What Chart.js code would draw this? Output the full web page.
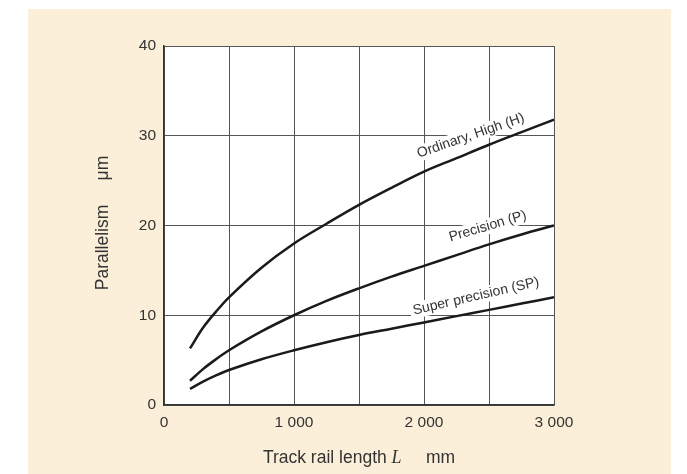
<!DOCTYPE html>
<html>
<head>
<meta charset="utf-8">
<script src="https://cdn.jsdelivr.net/npm/chart.js@4.4.0/dist/chart.umd.min.js"></script>
<style>
  html, body { margin: 0; padding: 0; background: #ffffff; }
  #wrap { width: 687px; height: 474px; }
</style>
</head>
<body>
<div id="wrap"><canvas id="c" width="687" height="474"></canvas></div>
<script>
// track rail length L (mm)
var lengths = [200, 300, 400, 500, 750, 1000, 1250, 1500, 1750, 2000, 2250, 2500, 2750, 3000];
// parallelism (um) per accuracy class
var ordinaryHigh = [6.3, 8.6, 10.4, 12.0, 15.3, 18.0, 20.2, 22.3, 24.2, 26.0, 27.5, 29.0, 30.4, 31.8];
var precision = [2.7, 4.0, 5.1, 6.1, 8.2, 10.0, 11.6, 13.0, 14.3, 15.5, 16.7, 17.9, 19.0, 20.0];
var superPrecision = [1.8, 2.6, 3.3, 3.9, 5.1, 6.1, 7.0, 7.8, 8.5, 9.2, 9.9, 10.6, 11.3, 12.0];

var curveLabels = ['Ordinary, High (H)', 'Precision (P)', 'Super precision (SP)'];
var labelX = [2360, 2490, 2400];
var labelY = [30.0, 19.9, 12.1];
var labelAngle = [-19, -16.5, -13];

function toPoints(ys) {
  return lengths.map(function (x, i) { return { x: x, y: ys[i] }; });
}

function series(ys) {
  return {
    data: toPoints(ys),
    borderColor: '#1a1a1a',
    borderWidth: 2.5,
    pointRadius: 0,
    tension: 0.35,
    showLine: true,
    fill: false
  };
}

var FONT = '"Liberation Sans", Arial, sans-serif';
var SERIF_IT = 'italic 18px "Liberation Serif", "Times New Roman", serif';

var decor = {
  id: 'decor',
  beforeDraw: function (chart) {
    var ctx = chart.ctx, a = chart.chartArea;
    ctx.save();
    ctx.fillStyle = '#fcefd9';
    ctx.fillRect(28, 9, 643, 465);
    ctx.fillStyle = '#ffffff';
    ctx.fillRect(a.left, a.top, a.right - a.left, a.bottom - a.top);
    ctx.restore();
  },
  afterDraw: function (chart) {
    var ctx = chart.ctx, a = chart.chartArea;
    var xs = chart.scales.x, ys = chart.scales.y;
    ctx.save();

    // curve labels with white knock-out
    ctx.font = '14px ' + FONT;
    ctx.textAlign = 'center';
    ctx.textBaseline = 'middle';
    for (var i = 0; i < curveLabels.length; i++) {
      var px = xs.getPixelForValue(labelX[i]);
      var py = ys.getPixelForValue(labelY[i]);
      var w = ctx.measureText(curveLabels[i]).width;
      ctx.save();
      ctx.translate(px, py);
      ctx.rotate(labelAngle[i] * Math.PI / 180);
      ctx.fillStyle = '#ffffff';
      ctx.fillRect(-w / 2 - 3, -8, w + 6, 16);
      ctx.fillStyle = '#333333';
      ctx.fillText(curveLabels[i], 0, 0);
      ctx.restore();
    }

    // x title with italic L
    var cx = (a.left + a.right) / 2;
    var ty = a.bottom + 53;
    var p1 = 'Track rail length ', p2 = 'L', p3 = '     mm';
    ctx.font = '17.5px ' + FONT;
    var w1 = ctx.measureText(p1).width, w3 = ctx.measureText(p3).width;
    ctx.font = SERIF_IT;
    var w2 = ctx.measureText(p2).width;
    var sx = cx - (w1 + w2 + w3) / 2;
    ctx.textAlign = 'left';
    ctx.textBaseline = 'middle';
    ctx.fillStyle = '#333333';
    ctx.font = '17.5px ' + FONT;
    ctx.fillText(p1, sx, ty);
    ctx.font = SERIF_IT;
    ctx.fillText(p2, sx + w1, ty);
    ctx.font = '17.5px ' + FONT;
    ctx.fillText(p3, sx + w1 + w2, ty);

    // y title
    ctx.translate(a.left - 61, 223);
    ctx.rotate(-Math.PI / 2);
    ctx.textAlign = 'center';
    ctx.fillText('Parallelism     \u03bcm', 0, 0);
    ctx.restore();
  }
};

new Chart(document.getElementById('c'), {
  type: 'scatter',
  data: {
    datasets: [series(ordinaryHigh), series(precision), series(superPrecision)]
  },
  options: {
    responsive: false,
    animation: false,
    layout: { padding: { left: 0, top: 46, right: 133, bottom: 0 } },
    plugins: { legend: { display: false }, tooltip: { enabled: false } },
    scales: {
      x: {
        type: 'linear',
        min: 0,
        max: 3000,
        afterFit: function (s) { s.height = 69; },
        ticks: {
          stepSize: 500,
          autoSkip: false,
          maxRotation: 0,
          padding: 8,
          color: '#333333',
          font: { family: FONT, size: 15.5 },
          callback: function (v) {
            if (v % 1000 !== 0) return '';
            return v === 0 ? '0' : (v / 1000) + ' 000';
          }
        },
        grid: { color: '#555555', lineWidth: 1, drawTicks: false },
        border: { display: true, color: '#333333', width: 1.5 }
      },
      y: {
        min: 0,
        max: 40,
        afterFit: function (s) { s.width = 164; },
        ticks: {
          stepSize: 10,
          padding: 8,
          color: '#333333',
          font: { family: FONT, size: 15.5 }
        },
        grid: { color: '#555555', lineWidth: 1, drawTicks: false },
        border: { display: true, color: '#333333', width: 1.5 }
      }
    }
  },
  plugins: [decor]
});
</script>
</body>
</html>
